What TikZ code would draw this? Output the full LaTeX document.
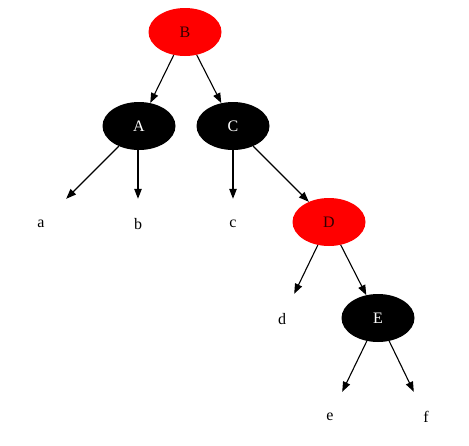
\documentclass[tikz,border=0pt]{standalone}
\usepackage{fontspec}
\setmainfont{Liberation Serif}
\usetikzlibrary{shapes.geometric,arrows.meta}
\begin{document}
\begin{tikzpicture}[x=1pt,y=-1pt,
  rbnode/.style={ellipse, minimum width=73pt, minimum height=48pt, inner sep=0pt, font=\fontsize{16}{18}\selectfont},
  rednode/.style={rbnode, fill=red, text=black!80!red},
  blacknode/.style={rbnode, fill=black, text=white},
  leaf/.style={rectangle, minimum width=54pt, minimum height=50pt, inner sep=0pt, font=\fontsize{16}{18}\selectfont},
  edge/.style={draw=black, line width=1.1pt, -{Triangle[length=10pt,width=7.5pt]}}]
\useasboundingbox (0,0) rectangle (469,445);
\node[rednode] (B) at (185,32) {B};
\node[blacknode] (A) at (139,126) {A};
\node[blacknode] (C) at (233,126) {C};
\node[rednode] (D) at (329,222) {D};
\node[blacknode] (E) at (378,318) {E};
\node[leaf] (a) at (41,224) {a};
\node[leaf] (b) at (138,224) {b};
\node[leaf] (c) at (233,224) {c};
\node[leaf] (d) at (282,319) {d};
\node[leaf] (e) at (330,417) {e};
\node[leaf] (f) at (426,417) {f};
\draw[edge] (B) -- (A);
\draw[edge] (B) -- (C);
\draw[edge] (A) -- (a);
\draw[edge] (A.south -| b) -- (b);
\draw[edge] (C.south -| c) -- (c);
\draw[edge] (C) -- (D);
\draw[edge] (D) -- (d);
\draw[edge] (D) -- (E);
\draw[edge] (E) -- (e);
\draw[edge] (E) -- (f);
\end{tikzpicture}
\end{document}
